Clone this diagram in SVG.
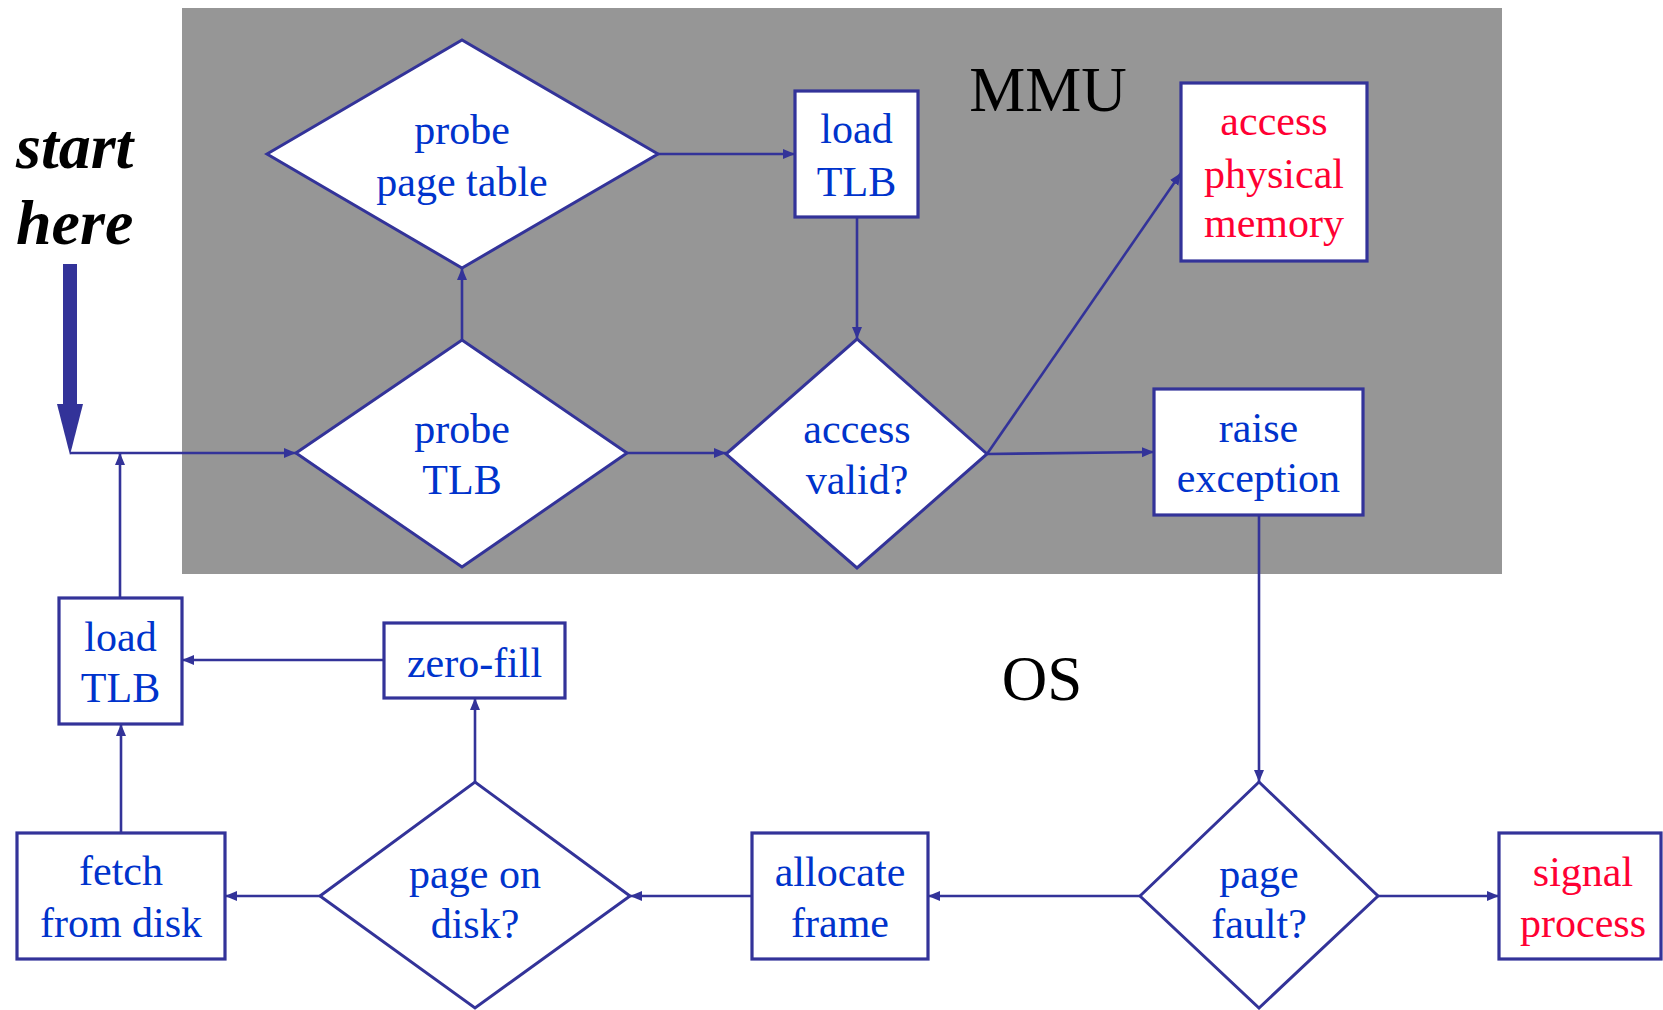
<svg xmlns="http://www.w3.org/2000/svg" width="1663" height="1010" viewBox="0 0 1663 1010">
<style>
.box{fill:#ffffff;stroke:#333399;stroke-width:3.2}
.dia{fill:#ffffff;stroke:#333399;stroke-width:3}
.t{font-family:"Liberation Serif","Times New Roman",serif;font-size:42px;fill:#0033cc;text-anchor:middle}
.r{fill:#ff0033}
.lbl{font-family:"Liberation Serif","Times New Roman",serif;font-size:63px;fill:#000000;text-anchor:middle}
.conn{stroke:#333399;stroke-width:2.6;fill:none;marker-end:url(#ah)}
</style>
<defs>
<marker id="ah" markerUnits="userSpaceOnUse" markerWidth="13" markerHeight="11" refX="12" refY="5" orient="auto">
<path d="M0,0 L12,5 L0,10 z" fill="#333399"/>
</marker>
</defs>
<rect width="1663" height="1010" fill="#ffffff"/>
<rect x="182" y="8" width="1320" height="566" fill="#969696"/>
<text class="lbl" x="1048" y="111">MMU</text>
<text class="lbl" x="1042" y="700">OS</text>
<text x="16" y="168" font-family="Liberation Serif,'Times New Roman',serif" font-size="64" font-weight="bold" font-style="italic" fill="#000000">start</text>
<text x="16" y="244" font-family="Liberation Serif,'Times New Roman',serif" font-size="64" font-weight="bold" font-style="italic" fill="#000000">here</text>
<g id="connectors">
<rect x="63" y="264" width="14" height="142" fill="#333399"/>
<polygon points="57,404 83,404 70,455" fill="#333399"/>
<path class="conn" d="M70,453 L296,453"/>
<path class="conn" d="M120,598 L120,453"/>
<path class="conn" d="M462,340 L462,268"/>
<path class="conn" d="M658,154 L795,154"/>
<path class="conn" d="M857,217 L857,339"/>
<path class="conn" d="M627,453 L726,453"/>
<path class="conn" d="M987,454 L1181,173"/>
<path class="conn" d="M987,454 L1154,452"/>
<path class="conn" d="M1259,515 L1259,782"/>
<path class="conn" d="M1378,896 L1499,896"/>
<path class="conn" d="M1140,896 L928,896"/>
<path class="conn" d="M752,896 L630,896"/>
<path class="conn" d="M475,782 L475,698"/>
<path class="conn" d="M384,660 L182,660"/>
<path class="conn" d="M121,833 L121,724"/>
<path class="conn" d="M320,896 L225,896"/>
</g>
<g id="probe-page-table">
<polygon class="dia" points="267,154 462,40 658,154 462,268"/>
<text class="t" x="462"><tspan x="462" y="144">probe</tspan><tspan x="462" y="196">page table</tspan></text>
</g>
<g id="probe-tlb">
<polygon class="dia" points="296,453 462,340 627,453 462,567"/>
<text class="t"><tspan x="462" y="443">probe</tspan><tspan x="462" y="494">TLB</tspan></text>
</g>
<g id="load-tlb-mmu">
<rect class="box" x="795" y="91" width="123" height="126"/>
<text class="t"><tspan x="856.5" y="143">load</tspan><tspan x="856.5" y="196">TLB</tspan></text>
</g>
<g id="access-valid">
<polygon class="dia" points="726,454 857,339 987,454 857,568"/>
<text class="t"><tspan x="857" y="443">access</tspan><tspan x="857" y="494">valid?</tspan></text>
</g>
<g id="access-physical-memory">
<rect class="box" x="1181" y="83" width="186" height="178"/>
<text class="t r"><tspan x="1274" y="135">access</tspan><tspan x="1274" y="188">physical</tspan><tspan x="1274" y="237">memory</tspan></text>
</g>
<g id="raise-exception">
<rect class="box" x="1154" y="389" width="209" height="126"/>
<text class="t"><tspan x="1258.5" y="442">raise</tspan><tspan x="1258.5" y="492">exception</tspan></text>
</g>
<g id="page-fault">
<polygon class="dia" points="1140,896 1259,782 1378,896 1259,1008"/>
<text class="t"><tspan x="1259" y="888">page</tspan><tspan x="1259" y="938">fault?</tspan></text>
</g>
<g id="signal-process">
<rect class="box" x="1499" y="833" width="162" height="126"/>
<text class="t r"><tspan x="1583" y="886">signal</tspan><tspan x="1583" y="937">process</tspan></text>
</g>
<g id="allocate-frame">
<rect class="box" x="752" y="833" width="176" height="126"/>
<text class="t"><tspan x="840" y="886">allocate</tspan><tspan x="840" y="937">frame</tspan></text>
</g>
<g id="page-on-disk">
<polygon class="dia" points="320,896 475,782 630,896 475,1008"/>
<text class="t"><tspan x="475" y="888">page on</tspan><tspan x="475" y="938">disk?</tspan></text>
</g>
<g id="zero-fill">
<rect class="box" x="384" y="623" width="181" height="75"/>
<text class="t" x="474.5" y="677">zero-fill</text>
</g>
<g id="load-tlb-os">
<rect class="box" x="59" y="598" width="123" height="126"/>
<text class="t"><tspan x="120.5" y="651">load</tspan><tspan x="120.5" y="702">TLB</tspan></text>
</g>
<g id="fetch-from-disk">
<rect class="box" x="17" y="833" width="208" height="126"/>
<text class="t"><tspan x="121" y="885">fetch</tspan><tspan x="121" y="937">from disk</tspan></text>
</g>
</svg>
